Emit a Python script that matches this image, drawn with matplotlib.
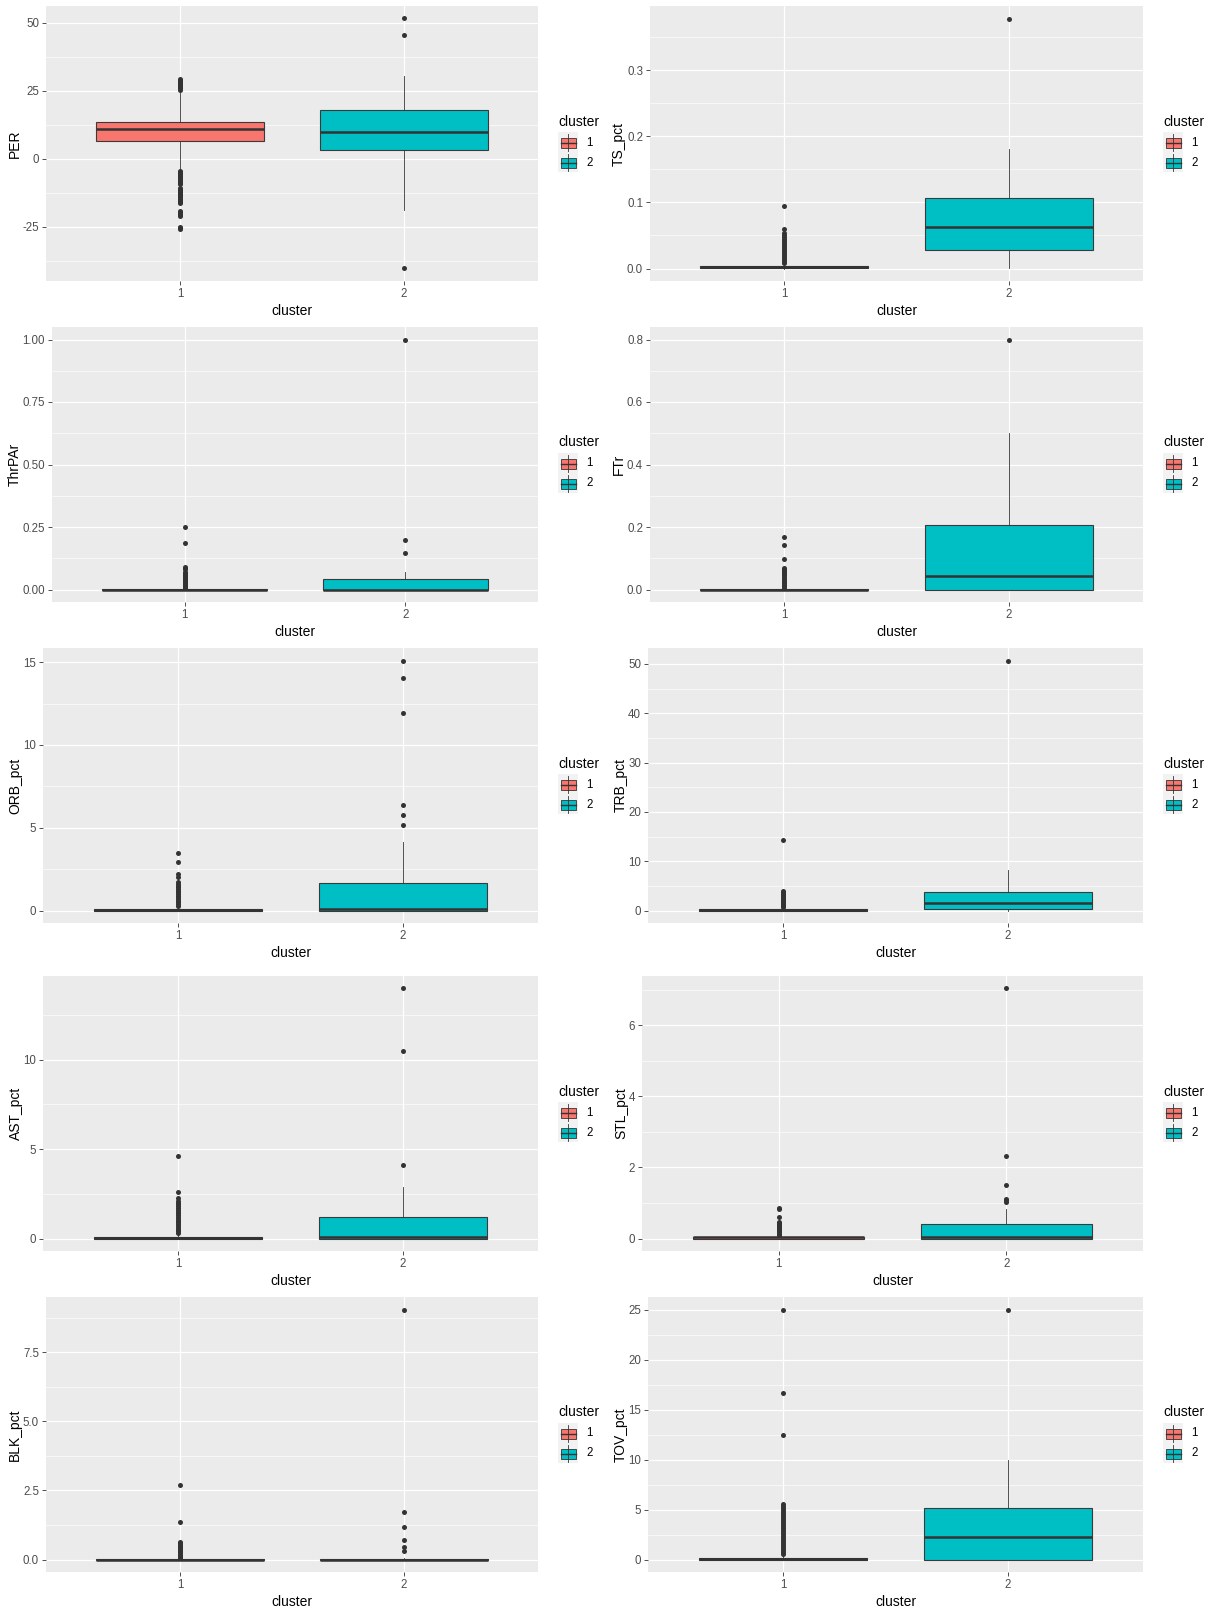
import matplotlib
matplotlib.use("Agg")
import matplotlib.pyplot as plt
from matplotlib.patches import Rectangle

plt.rcParams["font.family"] = ["Liberation Sans", "DejaVu Sans"]

W, H = 1208, 1612

variables = ["PER", "TS_pct", "ThrPAr", "FTr", "ORB_pct",
             "TRB_pct", "AST_pct", "STL_pct", "BLK_pct", "TOV_pct"]
clusters = ["1", "2"]
fills = ["#F8766D", "#00BFC4"]

# five-number summaries, one entry per variable
c1_q1 = [6.6, 0.001, 0.0, 0.0, 0.0, 0.0, 0.0, 0.0, 0.0, 0.0]
c1_med = [10.8, 0.003, 0.0, 0.0, 0.05, 0.2, 0.05, 0.03, 0.0, 0.1]
c1_q3 = [13.7, 0.004, 0.003, 0.002, 0.1, 0.3, 0.1, 0.04, 0.02, 0.2]
c1_lo = [-4.0, 0.0, 0.0, 0.0, 0.0, 0.0, 0.0, 0.0, 0.0, 0.0]
c1_hi = [24.3, 0.008, 0.0045, 0.003, 0.25, 0.7, 0.25, 0.1, 0.05, 0.5]

c2_q1 = [3.1, 0.0277, 0.0, 0.0, 0.0, 0.34, 0.0, 0.0, 0.0, 0.0]
c2_med = [10.0, 0.0624, 0.0, 0.0437, 0.1, 1.55, 0.07, 0.03, 0.0, 2.3]
c2_q3 = [17.8, 0.107, 0.0427, 0.206, 1.69, 3.7, 1.19, 0.41, 0.02, 5.13]
c2_lo = [-18.9, 0.0015, 0.0, 0.0, 0.0, 0.0, 0.0, 0.0, 0.0, 0.0]
c2_hi = [30.6, 0.181, 0.0707, 0.5, 4.16, 8.2, 2.87, 0.84, 0.05, 10.0]

# outliers
per_out1 = [25.5, 25.9, 26.3, 26.7, 27.1, 27.5, 27.9, 28.3, 28.7, 29.1, 29.5,
            -4.4, -4.8, -5.2, -5.6, -6.0, -6.4, -6.8, -7.2, -7.6, -8.0, -8.4, -8.8, -9.2,
            -10.6, -11.0, -11.4, -11.8, -12.2, -12.6, -13.0, -13.4, -13.8, -14.2, -14.6,
            -15.0, -15.4, -15.8, -16.2, -19.0, -19.4, -19.8, -20.2, -20.6, -21.0,
            -24.9, -25.3, -25.7]
per_out2 = [51.6, 45.7, -40.3]
ts_out1 = [0.009, 0.012, 0.015, 0.018, 0.021, 0.024, 0.027, 0.030, 0.033, 0.036,
           0.039, 0.042, 0.045, 0.048, 0.051, 0.054, 0.060, 0.095]
ts_out2 = [0.378]
thr_out1 = [0.006, 0.010, 0.014, 0.018, 0.022, 0.026, 0.030, 0.034, 0.038, 0.042,
            0.046, 0.050, 0.054, 0.058, 0.062, 0.066, 0.070, 0.083, 0.087, 0.092,
            0.188, 0.252]
thr_out2 = [0.148, 0.199, 1.0]
ftr_out1 = [0.005, 0.010, 0.015, 0.020, 0.025, 0.030, 0.035, 0.040, 0.045, 0.050,
            0.055, 0.060, 0.065, 0.070, 0.099, 0.141, 0.167]
ftr_out2 = [0.8]
orb_out1 = [0.3, 0.4, 0.5, 0.6, 0.7, 0.8, 0.9, 1.0, 1.1, 1.2, 1.3, 1.4, 1.5, 1.6, 1.7,
            2.0, 2.2, 2.9, 3.5]
orb_out2 = [5.14, 5.78, 6.37, 11.9, 14.04, 15.1]
trb_out1 = [0.8, 1.0, 1.2, 1.4, 1.6, 1.8, 2.0, 2.2, 2.4, 2.6, 2.8, 3.0, 3.2, 3.4,
            3.6, 3.8, 4.0, 14.2]
trb_out2 = [50.7]
ast_out1 = [0.3, 0.4, 0.5, 0.6, 0.7, 0.8, 0.9, 1.0, 1.1, 1.2, 1.3, 1.4, 1.5, 1.6,
            1.7, 1.8, 1.9, 2.0, 2.1, 2.25, 2.6, 4.6]
ast_out2 = [4.1, 10.45, 13.97]
stl_out1 = [0.11, 0.14, 0.17, 0.20, 0.23, 0.26, 0.29, 0.32, 0.35, 0.38, 0.41,
            0.44, 0.47, 0.61, 0.82, 0.86]
stl_out2 = [1.04, 1.08, 1.12, 1.5, 2.32, 7.03]
blk_out1 = [0.06, 0.10, 0.14, 0.18, 0.22, 0.26, 0.30, 0.34, 0.38, 0.42, 0.46,
            0.50, 0.54, 0.58, 0.62, 1.36, 2.7]
blk_out2 = [0.29, 0.47, 0.72, 1.17, 1.71, 9.04]
tov_out1 = [0.6, 0.8, 1.0, 1.2, 1.4, 1.6, 1.8, 2.0, 2.2, 2.4, 2.6, 2.8, 3.0, 3.2,
            3.4, 3.6, 3.8, 4.0, 4.2, 4.4, 4.6, 4.8, 5.0, 5.2, 5.4, 5.6,
            12.5, 16.7, 25.0]
tov_out2 = [25.0]

outliers1 = [per_out1, ts_out1, thr_out1, ftr_out1, orb_out1,
             trb_out1, ast_out1, stl_out1, blk_out1, tov_out1]
outliers2 = [per_out2, ts_out2, thr_out2, ftr_out2, orb_out2,
             trb_out2, ast_out2, stl_out2, blk_out2, tov_out2]

ytick_labels = [
    ["-25", "0", "25", "50"],
    ["0.0", "0.1", "0.2", "0.3"],
    ["0.00", "0.25", "0.50", "0.75", "1.00"],
    ["0.0", "0.2", "0.4", "0.6", "0.8"],
    ["0", "5", "10", "15"],
    ["0", "10", "20", "30", "40", "50"],
    ["0", "5", "10"],
    ["0", "2", "4", "6"],
    ["0.0", "2.5", "5.0", "7.5"],
    ["0", "5", "10", "15", "20", "25"],
]

# panel areas in pixels: left, top, right, bottom
panel_px = [
    (46, 6, 538, 281), (650, 6, 1143, 281),
    (52, 327, 538, 602), (650, 327, 1143, 602),
    (43, 648, 538, 923), (648, 648, 1143, 923),
    (43, 976, 538, 1251), (642, 976, 1143, 1251),
    (46, 1297, 538, 1572), (648, 1297, 1143, 1572),
]

GRID = "white"
DARK = "#333333"

fig = plt.figure(figsize=(W / 100, H / 100), dpi=100)
fig.patch.set_facecolor("white")


def draw_panel(i):
    l, t, r, b = panel_px[i]
    ax = fig.add_axes([l / W, 1 - b / H, (r - l) / W, (b - t) / H])
    ax.set_facecolor("#EBEBEB")
    for s in ax.spines.values():
        s.set_visible(False)

    stats = [
        dict(q1=c1_q1[i], med=c1_med[i], q3=c1_q3[i], whislo=c1_lo[i],
             whishi=c1_hi[i], fliers=outliers1[i]),
        dict(q1=c2_q1[i], med=c2_med[i], q3=c2_q3[i], whislo=c2_lo[i],
             whishi=c2_hi[i], fliers=outliers2[i]),
    ]
    bp = ax.bxp(stats, positions=[1, 2], widths=0.75, patch_artist=True,
                showcaps=False,
                boxprops=dict(edgecolor="#3A3A3A", linewidth=0.8),
                whiskerprops=dict(color=DARK, linewidth=0.6),
                medianprops=dict(color=DARK, linewidth=1.8),
                flierprops=dict(marker="o", markerfacecolor=DARK,
                                markeredgecolor="none", markersize=3.6))
    for patch, col in zip(bp["boxes"], fills):
        patch.set_facecolor(col)
        patch.set_zorder(3)
    for ln in bp["medians"] + bp["whiskers"] + bp["fliers"]:
        ln.set_zorder(4)

    vals = stats[0]["fliers"] + stats[1]["fliers"] + [c1_lo[i], c1_hi[i], c2_lo[i], c2_hi[i]]
    lo, hi = min(vals), max(vals)
    pad = 0.05 * (hi - lo)
    ax.set_ylim(lo - pad, hi + pad)
    ax.set_xlim(0.4, 2.6)

    labels = ytick_labels[i]
    majors = [float(v) for v in labels]
    step = majors[1] - majors[0]
    minors = [majors[0] - step / 2 + k * step for k in range(len(majors) + 1)]
    minors = [m for m in minors if lo - pad < m < hi + pad]
    for m in minors:
        ax.axhline(m, color=GRID, linewidth=0.45, zorder=0.5)
    for m in majors:
        ax.axhline(m, color=GRID, linewidth=0.9, zorder=0.6)
    for x in (1, 2):
        ax.axvline(x, color=GRID, linewidth=0.9, zorder=0.6)

    ax.set_yticks(majors)
    ax.set_yticklabels(labels)
    ax.set_xticks([1, 2])
    ax.set_xticklabels(clusters)
    ax.tick_params(axis="both", length=3, width=0.6, color=DARK,
                   labelcolor="#4D4D4D", labelsize=8.3, pad=2)
    ax.set_xlabel("cluster", fontsize=10, labelpad=3)
    ax.set_ylabel(variables[i], fontsize=10, labelpad=0.5)

    draw_legend(r + 20, (t + b) / 2)


def draw_legend(left, cy):
    ov.text(left, cy - 22, "cluster", fontsize=10, ha="left", va="center")
    for k, col in enumerate(fills):
        top = cy - 11.5 + 20 * k
        ov.add_patch(Rectangle((left, top), 20, 20, facecolor="#F2F2F2",
                               edgecolor="none"))
        cx = left + 10
        ov.plot([cx, cx], [top + 1.5, top + 18.5], color=DARK, linewidth=0.6)
        ov.add_patch(Rectangle((left + 2.5, top + 5.5), 15, 10, facecolor=col,
                               edgecolor=DARK, linewidth=0.6))
        ov.plot([left + 2.5, left + 17.5], [top + 10.5, top + 10.5], color=DARK,
                linewidth=1.0)
        ov.text(left + 28, top + 10.5, clusters[k], fontsize=8.3, ha="left",
                va="center")


ov = fig.add_axes([0, 0, 1, 1])
ov.set_xlim(0, W)
ov.set_ylim(H, 0)
ov.axis("off")
ov.patch.set_alpha(0)

for i in range(len(variables)):
    draw_panel(i)

ov.set_zorder(10)
fig.savefig("out.png", dpi=100)
